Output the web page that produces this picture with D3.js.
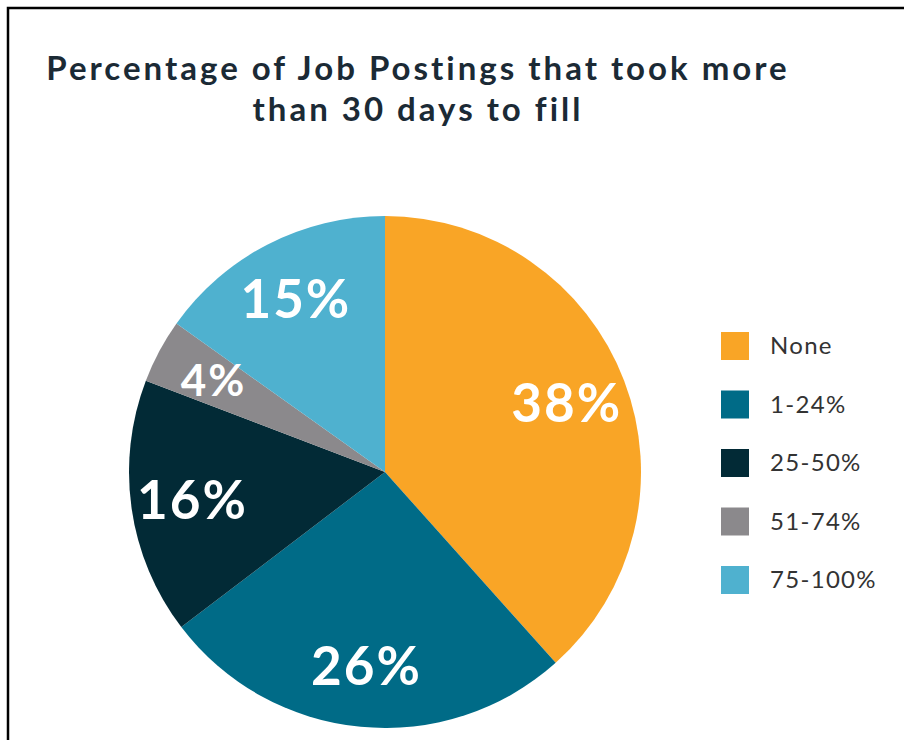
<!DOCTYPE html>
<html>
<head>
<meta charset="utf-8">
<script src="https://cdn.jsdelivr.net/npm/d3@7"></script>
<style>
  html, body { margin: 0; padding: 0; background: #fff; }
  svg { display: block; }
</style>
</head>
<body>
<svg id="chart" width="904" height="740"></svg>
<script>
const categories = ["None", "1-24%", "25-50%", "51-74%", "75-100%"];
const values = [38, 26, 16, 4, 15];
const labels = ["38%", "26%", "16%", "4%", "15%"];
const colors = ["#F9A526", "#006B87", "#022A36", "#8B898C", "#4FB1CF"];
const titleLines = ["Percentage of Job Postings that took more", "than 30 days to fill"];

const FONT = "Lato, 'Open Sans', sans-serif";
const svg = d3.select("#chart");

// frame (cropped: top and left edges)
svg.append("path")
  .attr("d", "M8,740 V8 H904")
  .attr("fill", "none")
  .attr("stroke", "#000")
  .attr("stroke-width", 2.5);

// title
const title = svg.append("text")
  .attr("font-family", FONT)
  .attr("font-weight", 700)
  .attr("font-size", 33)
  .attr("fill", "#1B2A35")
  .attr("text-anchor", "middle");
const t1 = title.append("tspan").attr("x", 418).attr("y", 80).text(titleLines[0]);
title.append("tspan").attr("x", 418).attr("y", 121).text(titleLines[1]);
const w1 = t1.node().getComputedTextLength();
const ls = Math.max(0, Math.min(3, (748 - w1) / (titleLines[0].length - 1)));
title.attr("letter-spacing", ls);

// pie
const cx = 385, cy = 472, R = 256;
const g = svg.append("g").attr("transform", `translate(${cx},${cy})`);
const pie = d3.pie().sort(null).value(d => d.v);
const data = pie(categories.map((c, i) => ({ c, v: values[i], l: labels[i], col: colors[i] })));
const arc = d3.arc().innerRadius(0).outerRadius(R);
const labelArc = d3.arc().innerRadius(R * 0.76).outerRadius(R * 0.76);

g.selectAll("path.slice")
  .data(data)
  .join("path")
  .attr("class", "slice")
  .attr("d", arc)
  .attr("fill", d => d.data.col);

g.selectAll("text.lbl")
  .data(data)
  .join("text")
  .attr("class", "lbl")
  .attr("transform", d => {
    const [x, y] = labelArc.centroid(d);
    return `translate(${x},${y})`;
  })
  .attr("text-anchor", "middle")
  .attr("dy", "0.36em")
  .attr("font-family", FONT)
  .attr("font-weight", 700)
  .attr("font-size", d => d.data.v < 8 ? 44 : 53)
  .attr("letter-spacing", 2)
  .attr("fill", "#fff")
  .text(d => d.data.l);

// legend
const legendY = d3.scalePoint().domain(categories).range([346, 580]);
const items = svg.append("g").selectAll("g.item")
  .data(categories.map((c, i) => ({ c, col: colors[i] })))
  .join("g")
  .attr("class", "item")
  .attr("transform", d => `translate(721,${legendY(d.c)})`);
items.append("rect")
  .attr("x", 0).attr("y", -14)
  .attr("width", 28).attr("height", 28)
  .attr("fill", d => d.col);
items.append("text")
  .attr("x", 49).attr("y", 0)
  .attr("dy", "0.35em")
  .attr("font-family", FONT)
  .attr("font-size", 24)
  .attr("letter-spacing", 1.3)
  .attr("fill", "#333")
  .text(d => d.c);
</script>
</body>
</html>
